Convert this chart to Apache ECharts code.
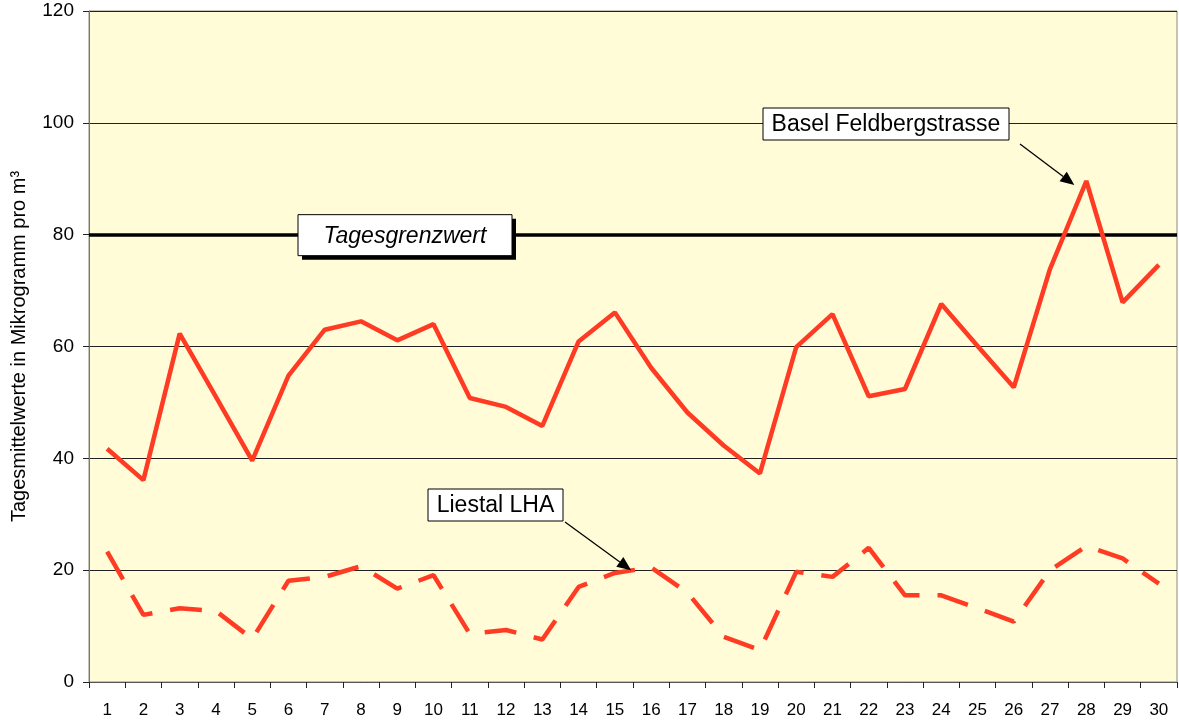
<!DOCTYPE html>
<html>
<head>
<meta charset="utf-8">
<script src="https://cdn.jsdelivr.net/npm/echarts@6/dist/echarts.min.js"></script>
<style>
  html, body { margin: 0; padding: 0; background: #fff; }
  #chart { width: 1179px; height: 724px; }
</style>
</head>
<body>
<div id="chart"></div>
<script>
  // Tage des Monats
  const days = ['1','2','3','4','5','6','7','8','9','10','11','12','13','14','15','16','17','18','19','20','21','22','23','24','25','26','27','28','29','30'];
  // Basel Feldbergstrasse (durchgezogen)
  const basel = [41.7, 36.1, 62.3, 51, 39.6, 54.8, 63.0, 64.5, 61.1, 64.0, 50.8, 49.2, 45.8, 60.9, 66.1, 56.2, 48.2, 42.3, 37.3, 59.9, 65.8, 51.1, 52.4, 67.6, 60.1, 52.7, 73.9, 89.6, 67.9, 74.6];
  // Liestal LHA (gestrichelt)
  const liestal = [23.3, 12.0, 13.2, 12.7, 7.7, 18.1, 18.8, 20.7, 16.7, 19.1, 8.6, 9.3, 7.6, 17.0, 19.5, 20.5, 16.0, 8.1, 5.7, 19.7, 18.8, 24.0, 15.5, 15.5, 13.2, 10.8, 20.0, 24.3, 22.1, 17.6];
  const yTicks = [0, 20, 40, 60, 80, 100, 120];
  const grenzwert = 80;

  const font = 'Liberation Sans, Arial, sans-serif';
  const red = '#ff3b24';

  const chart = echarts.init(document.getElementById('chart'));
  const option = {
    animation: false,
    grid: {
      left: 89, right: 2, top: 11, bottom: 42,
      show: true,
      backgroundColor: '#fffcd7',
      borderColor: '#8a8a80',
      borderWidth: 1
    },
    xAxis: {
      type: 'category',
      data: days,
      boundaryGap: true,
      axisLine: { show: true, lineStyle: { color: '#555', width: 1 } },
      axisTick: { show: true, length: 6, lineStyle: { color: '#222' } },
      axisLabel: { color: '#000', fontSize: 17, fontFamily: font, margin: 20 },
      splitLine: { show: false }
    },
    yAxis: {
      type: 'value',
      min: yTicks[0],
      max: yTicks[yTicks.length - 1],
      interval: 20,
      name: 'Tagesmittelwerte in Mikrogramm pro m³',
      nameLocation: 'middle',
      nameRotate: 90,
      nameGap: 60,
      nameTextStyle: { color: '#000', fontSize: 20, fontFamily: font },
      axisLine: { show: true, lineStyle: { color: '#777', width: 1 } },
      axisTick: { show: true, length: 6, lineStyle: { color: '#222' } },
      axisLabel: { color: '#000', fontSize: 19, fontFamily: font, margin: 15 },
      splitLine: { show: true, lineStyle: { color: '#222', width: 1 } }
    },
    series: [
      {
        name: 'Basel Feldbergstrasse',
        type: 'line',
        data: basel,
        symbol: 'none',
        lineStyle: { color: red, width: 4.5 },
        z: 3,
        markLine: {
          silent: true,
          symbol: 'none',
          label: { show: false },
          lineStyle: { color: '#000', width: 3.5, type: 'solid' },
          data: [{ yAxis: grenzwert }],
          z: 2
        }
      },
      {
        name: 'Liestal LHA',
        type: 'line',
        data: liestal,
        symbol: 'none',
        lineStyle: { color: red, width: 4.5, type: [32, 18] },
        z: 3
      }
    ]
  };
  chart.setOption(option);

  // Beschriftungen mit Pfeilen
  function arrow(x1, y1, x2, y2) {
    const a = Math.atan2(y2 - y1, x2 - x1);
    const L = 14, W = 6;
    const bx = x2 - L * Math.cos(a), by = y2 - L * Math.sin(a);
    return [
      { type: 'line', shape: { x1: x1, y1: y1, x2: bx, y2: by }, style: { stroke: '#000', lineWidth: 1.3 }, z: 20 },
      { type: 'polygon', shape: { points: [[x2, y2], [bx + W * Math.sin(a), by - W * Math.cos(a)], [bx - W * Math.sin(a), by + W * Math.cos(a)]] }, style: { fill: '#000' }, z: 20 }
    ];
  }
  function box(x, y, w, h, text, italic, shadow, size) {
    const els = [];
    if (shadow) {
      els.push({ type: 'rect', shape: { x: x + 4, y: y + 4, width: w, height: h }, style: { fill: '#000' }, z: 20 });
    }
    els.push({ type: 'rect', shape: { x: x, y: y, width: w, height: h }, style: { fill: '#fff', stroke: '#000', lineWidth: 1 }, z: 21 });
    els.push({ type: 'text', x: x + w / 2, y: y + h / 2 + 1, style: { text: text, fill: '#000', font: (italic ? 'italic ' : '') + size + 'px ' + font, textAlign: 'center', textVerticalAlign: 'middle' }, z: 22 });
    return els;
  }

  const yG = chart.convertToPixel({ yAxisIndex: 0 }, grenzwert);
  const p28 = chart.convertToPixel({ seriesIndex: 0 }, [27, basel[27]]);
  const p16 = chart.convertToPixel({ seriesIndex: 1 }, [15, 20]);

  let els = [];
  els = els.concat(box(298, yG - 20, 214, 41, 'Tagesgrenzwert', true, true, 23));
  els = els.concat(box(763, 108, 246, 32, 'Basel Feldbergstrasse', false, false, 23));
  els = els.concat(arrow(1020, 144, p28[0] - 12, p28[1] + 4));
  els = els.concat(box(428, 489, 135, 32, 'Liestal LHA', false, false, 23));
  els = els.concat(arrow(565, 522, p16[0] - 20, p16[1]));
  chart.setOption({ graphic: els });
</script>
</body>
</html>
